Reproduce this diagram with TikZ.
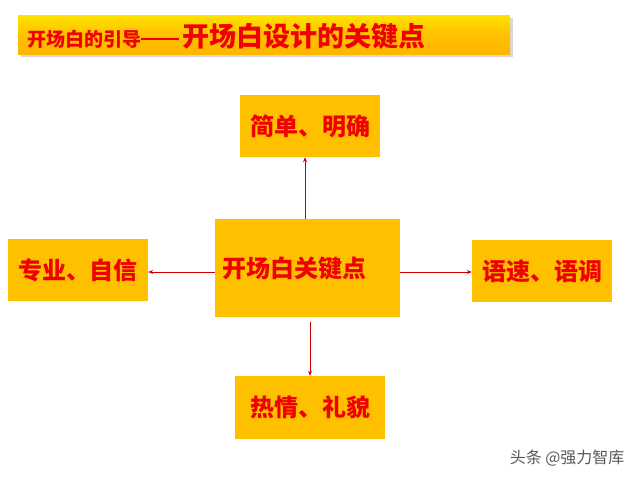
\documentclass[tikz,border=0pt]{standalone}
\usepackage{fontspec}
\setmainfont{Noto Sans CJK SC}
\usetikzlibrary{arrows.meta,positioning,shadows}
\definecolor{boxgold}{HTML}{FFC000}
\definecolor{keyred}{HTML}{F00000}
\tikzset{
  keybox/.style={rectangle,fill=boxgold,text=keyred,font=\bfseries\fontsize{24}{28}\selectfont,
                 inner sep=0pt,align=center},
  keyarrow/.style={-{Stealth[length=5pt,width=4pt]},draw=keyred!85!black,line width=0.7pt}
}

\begin{document}
\begin{tikzpicture}[x=1pt,y=-1pt]
  \useasboundingbox[fill=white] (0,0) rectangle (640,480);

  % title bar
  \node[rectangle,minimum width=492pt,minimum height=39pt,top color=yellow!55!boxgold,
        bottom color=boxgold!85!orange,middle color=boxgold,drop shadow={opacity=0.3},
        anchor=north west] (title) at (18,15) {};
  \node[anchor=west,text=keyred,inner sep=0pt] (titletxt) at (27,36)
    {\bfseries\fontsize{19}{22}\selectfont 开场白的引导\raisebox{6.5pt}{\rule{38pt}{1.3pt}}\,\fontsize{27}{30}\selectfont 开场白设计的关键点};

  \node[keybox,minimum width=185pt,minimum height=98pt,text width=171pt,inner xsep=7pt,align=left]
    (key) at (307.5,268) {\raisebox{-4pt}{开场白关键点}};
  \node[keybox,minimum width=140pt,minimum height=62pt] (simple) at (310,126) {简单、明确};
  \node[keybox,minimum width=140pt,minimum height=62pt] (confident) at (78,270) {专业、自信};
  \node[keybox,minimum width=140pt,minimum height=62pt] (tone) at (542,271) {语速、语调};
  \node[keybox,minimum width=150pt,minimum height=63pt] (warm) at (310,407.5) {热情、礼貌};

  \draw[keyarrow] ([xshift=-2.5pt]key.north) -- ([xshift=-2.5pt]key.north |- simple.south);
  \draw[keyarrow] ([yshift=-4pt]key.west) -- ([yshift=-4pt]key.west -| confident.east);
  \draw[keyarrow] ([yshift=-4pt]key.east) -- ([yshift=-4pt]key.east -| tone.west);
  \draw[keyarrow] ([xshift=2.5pt,yshift=-5pt]key.south) -- ([xshift=2.5pt]key.south |- warm.north);

  \node[anchor=east,text=black!65,font=\fontsize{16}{18}\selectfont] (mark) at (628,458) {头条 @强力智库};
\end{tikzpicture}
\end{document}
